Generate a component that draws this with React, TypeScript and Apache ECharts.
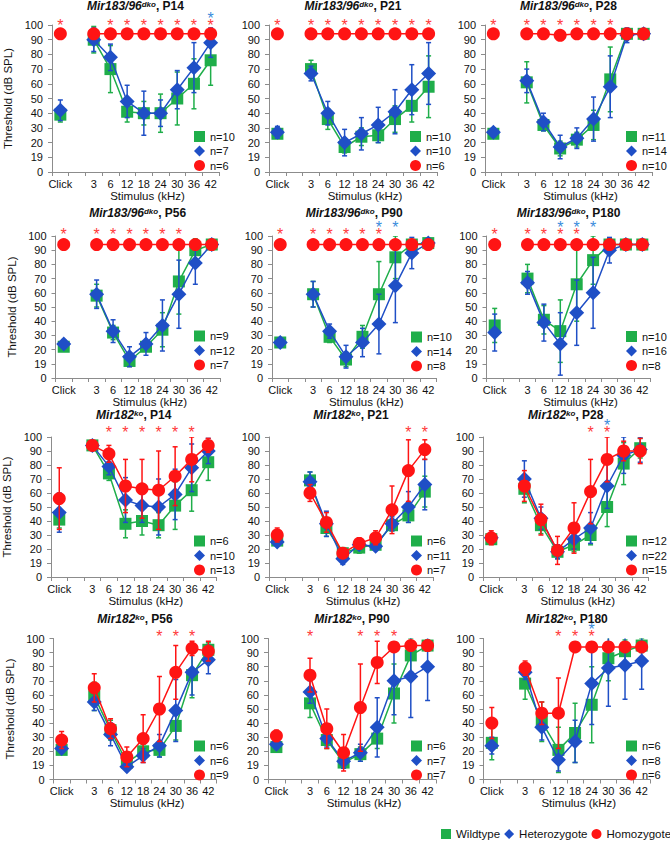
import React, { useEffect, useRef } from 'react';
import * as echarts from 'echarts';

// ---------------- data ----------------
const CATEGORIES = ['Click', '', '3', '6', '12', '18', '24', '30', '36', '42'];
const Y_TICK_LABELS = ['0', '19', '20', '30', '40', '50', '60', '70', '80', '90', '100'];
const GROUPS = ['Wildtype', 'Heterozygote', 'Homozygote'];

const TITLE_GENE = ['Mir183/96', 'Mir183/96', 'Mir183/96', 'Mir183/96', 'Mir183/96', 'Mir183/96', 'Mir182', 'Mir182', 'Mir182', 'Mir182', 'Mir182', 'Mir182'];
const TITLE_SUP = ['dko', 'dko', 'dko', 'dko', 'dko', 'dko', 'ko', 'ko', 'ko', 'ko', 'ko', 'ko'];
const TITLE_AGE = ['P14', 'P21', 'P28', 'P56', 'P90', 'P180', 'P14', 'P21', 'P28', 'P56', 'P90', 'P180'];

// values per panel, order: Click, 3, 6, 12, 18, 24, 30, 36, 42
const WT_MEAN = [
  [39, 90, 70, 41, 40, 40, 50, 60, 76],
  [26, 70, 36, 17, 24, 25, 36, 45, 58],
  [26, 61, 32, 16, 22, 32, 63, 94, 94],
  [22, 58, 32, 12, 22, 34, 68, 90, 94],
  [25, 59, 29, 13, 29, 59, 85, 94, 95],
  [37, 70, 41, 33, 66, 83, 94, 94, 94],
  [41, 94, 74, 38, 40, 37, 51, 62, 82],
  [26, 69, 35, 17, 21, 23, 37, 44, 61],
  [27, 63, 37, 18, 23, 30, 50, 81, 92],
  [21, 59, 35, 12, 20, 21, 38, 74, 92],
  [23, 54, 28, 12, 18, 29, 61, 88, 95],
  [26, 68, 41, 21, 33, 53, 86, 91, 95],
];
const WT_SD = [
  [5, 9, 16, 7, 8, 13, 18, 17, 17],
  [3, 6, 7, 4, 6, 5, 9, 11, 21],
  [2, 14, 4, 5, 5, 10, 22, 3, 2],
  [2, 8, 5, 4, 3, 12, 23, 8, 2],
  [3, 9, 4, 5, 8, 23, 15, 3, 3],
  [12, 10, 10, 22, 26, 17, 4, 3, 3],
  [6, 3, 5, 10, 10, 9, 17, 15, 13],
  [2, 6, 6, 4, 4, 3, 4, 5, 11],
  [3, 10, 6, 5, 5, 7, 14, 15, 7],
  [2, 10, 7, 4, 5, 5, 10, 16, 5],
  [2, 10, 6, 4, 5, 7, 21, 12, 4],
  [12, 11, 14, 16, 21, 27, 16, 8, 5],
];
const HET_MEAN = [
  [42, 90, 78, 48, 40, 40, 56, 71, 88],
  [27, 67, 40, 20, 26, 32, 41, 56, 67],
  [27, 62, 34, 17, 23, 36, 58, 93, 94],
  [24, 59, 33, 15, 24, 37, 59, 81, 94],
  [25, 59, 33, 15, 25, 38, 65, 88, 95],
  [32, 67, 39, 24, 46, 60, 90, 94, 94],
  [46, 94, 79, 55, 51, 50, 59, 78, 90],
  [25, 68, 38, 13, 23, 22, 38, 50, 66],
  [28, 70, 42, 18, 27, 35, 65, 87, 91],
  [22, 55, 32, 9, 17, 24, 49, 76, 85],
  [25, 62, 29, 13, 19, 37, 70, 73, 80],
  [24, 76, 37, 14, 27, 68, 79, 81, 84],
];
const HET_SD = [
  [7, 8, 9, 11, 15, 9, 13, 17, 10],
  [4, 5, 8, 9, 11, 12, 15, 17, 21],
  [3, 8, 6, 8, 7, 15, 21, 5, 2],
  [3, 10, 8, 7, 8, 18, 24, 15, 2],
  [3, 9, 5, 8, 10, 21, 26, 11, 3],
  [13, 8, 13, 22, 23, 25, 9, 3, 3],
  [14, 3, 6, 16, 12, 20, 18, 17, 9],
  [2, 7, 9, 4, 3, 3, 5, 11, 18],
  [3, 13, 8, 5, 7, 11, 16, 13, 9],
  [3, 6, 8, 2, 5, 8, 22, 16, 10],
  [3, 8, 6, 5, 6, 21, 24, 29, 24],
  [6, 5, 9, 8, 15, 29, 27, 24, 20],
];
const HOM_MEAN = [
  [94, 94, 94, 94, 94, 94, 94, 94, 94],
  [94, 94, 94, 94, 94, 94, 94, 94, 94],
  [94, 94, 94, 93, 94, 94, 94, 94, 94],
  [94, 94, 94, 94, 94, 94, 94, 94, 94],
  [94, 94, 94, 94, 94, 94, 94, 94, 94],
  [94, 94, 94, 94, 94, 94, 94, 94, 94],
  [56, 94, 88, 65, 63, 62, 72, 84, 94],
  [30, 60, 39, 17, 24, 28, 48, 76, 91],
  [28, 65, 41, 19, 35, 61, 84, 90, 90],
  [28, 65, 36, 16, 29, 50, 76, 93, 91],
  [31, 74, 36, 19, 51, 83, 94, 95, 95],
  [40, 79, 47, 47, 94, 94, 94, 94, 94],
];
const HOM_SD = [
  [0, 0, 0, 0, 0, 0, 0, 0, 0],
  [0, 0, 0, 0, 0, 0, 0, 0, 0],
  [0, 0, 0, 0, 0, 0, 0, 0, 0],
  [0, 0, 0, 0, 0, 0, 0, 0, 0],
  [0, 0, 0, 0, 0, 0, 0, 0, 0],
  [0, 0, 0, 0, 0, 0, 0, 0, 0],
  [22, 3, 6, 19, 21, 28, 21, 16, 5],
  [5, 6, 7, 3, 4, 5, 17, 22, 7],
  [5, 11, 11, 10, 18, 23, 16, 7, 9],
  [6, 10, 7, 7, 17, 23, 19, 5, 7],
  [4, 12, 14, 13, 31, 15, 3, 2, 2],
  [11, 5, 8, 25, 2, 2, 2, 2, 2],
];
const N_COUNTS = [
  [10, 7, 6], [10, 10, 6], [11, 14, 10],
  [9, 12, 7], [10, 14, 8], [10, 16, 8],
  [6, 10, 13], [6, 11, 7], [12, 22, 15],
  [6, 6, 9], [6, 7, 7], [6, 8, 6],
];
const RED_STARS = [
  ['Click', '6', '12', '18', '24', '30', '36', '42'],
  ['Click', '3', '6', '12', '18', '24', '30', '36', '42'],
  ['Click', '3', '6', '12', '18', '24', '30'],
  ['Click', '3', '6', '12', '18', '24', '30'],
  ['Click', '3', '6', '12', '18', '24'],
  ['Click', '3', '6', '12', '18'],
  ['6', '12', '18', '24', '30', '36'],
  ['36', '42'],
  ['24', '30'],
  ['24', '30', '36'],
  ['3', '18', '24', '30'],
  ['12', '18', '24'],
];
const BLUE_STARS = [
  ['42'], [], [],
  [], ['24', '30'], ['12', '18', '24'],
  [], [], ['30'],
  [], [], ['24'],
];

// ---------------- layout / style ----------------
const FONT = '"Liberation Sans", Arial, Helvetica, sans-serif';
const COLORS = ['#1fae4a', '#1f4fc6', '#ff1414'];
const STAR_COLORS = ['#ff3a3a', '#3a8cdc'];
const SYMBOLS = ['rect', 'diamond', 'circle'];
const SYMBOL_SIZES = [12, 15, 13];
const AXIS_COLOR = '#8c8c8c';

const PANELS = [
  { l: 52, r: 219, t: 25, b: 172, lx: 194, ly: 131 },
  { l: 269, r: 437, t: 25, b: 172, lx: 410, ly: 131 },
  { l: 485, r: 652, t: 25, b: 172, lx: 626, ly: 131 },
  { l: 55.5, r: 220, t: 236, b: 378, lx: 194, ly: 330.5 },
  { l: 272, r: 436.5, t: 236, b: 378, lx: 411, ly: 331.5 },
  { l: 486.5, r: 650.5, t: 236, b: 378, lx: 626, ly: 331 },
  { l: 51, r: 216.5, t: 437, b: 577, lx: 194, ly: 535.5 },
  { l: 269, r: 433, t: 437, b: 577, lx: 411, ly: 535.5 },
  { l: 483, r: 648.5, t: 437, b: 577, lx: 626, ly: 535.5 },
  { l: 53.5, r: 216.5, t: 638.5, b: 779.5, lx: 194, ly: 740.5 },
  { l: 268, r: 436, t: 638.5, b: 779.5, lx: 411, ly: 740.5 },
  { l: 483.5, r: 650, t: 638.5, b: 779.5, lx: 626, ly: 740.5 },
];
const TITLE_TOP = [0, 207, 409, 613];
const STAR_OFFSET = [0, -2, -5, -2.5];

const catIndex = (j: number) => (j === 0 ? 0 : j + 1);

function buildOption() {
  const grids: any[] = [];
  const xAxes: any[] = [];
  const yAxes: any[] = [];
  const titles: any[] = [];
  const legends: any[] = [];
  const series: any[] = [];
  const nameMap: Record<string, string> = {};

  const means = [WT_MEAN, HET_MEAN, HOM_MEAN];
  const sds = [WT_SD, HET_SD, HOM_SD];

  PANELS.forEach((p, i) => {
    const row = Math.floor(i / 3);
    const col = i % 3;
    grids.push({
      left: p.l, top: p.t, width: p.r - p.l, height: p.b - p.t,
      containLabel: false, outerBoundsMode: 'none', show: false,
    });
    xAxes.push({
      type: 'category', gridIndex: i, data: CATEGORIES, boundaryGap: true,
      axisLine: { show: true, lineStyle: { color: AXIS_COLOR, width: 1 } },
      axisTick: { show: true, length: 4, interval: 0, alignWithLabel: false, lineStyle: { color: AXIS_COLOR } },
      axisLabel: { interval: 0, fontSize: 11, color: '#111', margin: 6, fontFamily: FONT },
      splitLine: { show: false },
      name: 'Stimulus (kHz)', nameLocation: 'middle', nameGap: 16,
      nameTextStyle: { fontSize: 11.5, color: '#111', fontFamily: FONT, padding: [0, 0, 0, 24] },
    });
    yAxes.push({
      type: 'value', gridIndex: i, min: 0, max: 100, interval: 10,
      axisLine: { show: true, lineStyle: { color: AXIS_COLOR, width: 1 } },
      axisTick: { show: true, length: 4, lineStyle: { color: AXIS_COLOR } },
      axisLabel: {
        fontSize: 11, color: '#111', margin: 9, fontFamily: FONT,
        formatter: (v: number) => Y_TICK_LABELS[Math.round(v / 10)],
      },
      splitLine: { show: false },
      name: col === 0 ? 'Threshold (dB SPL)' : '',
      nameLocation: 'middle', nameGap: 38,
      nameTextStyle: { fontSize: 11.5, color: '#111', fontFamily: FONT },
    });
    titles.push({
      text: `{a|${TITLE_GENE[i]}}{b|${TITLE_SUP[i]}}{c|, ${TITLE_AGE[i]}}`,
      left: (p.l + p.r) / 2, top: TITLE_TOP[row], textAlign: 'center', padding: 0,
      textStyle: {
        rich: {
          a: { fontSize: 12, fontWeight: 'bold', fontStyle: 'italic', fontFamily: FONT, color: '#111' },
          b: { fontSize: 8, fontStyle: 'italic', fontFamily: FONT, color: '#111', verticalAlign: 'top' },
          c: { fontSize: 12, fontWeight: 'bold', fontFamily: FONT, color: '#111' },
        },
      },
    });

    const legendData: any[] = [];
    for (let g = 0; g < 3; g++) {
      const nm = `p${i}_${g}`;
      nameMap[nm] = `n=${N_COUNTS[i][g]}`;
      legendData.push({ name: nm, icon: SYMBOLS[g] });
      const m = means[g][i];
      const s = sds[g][i];
      const color = COLORS[g];
      // error bars
      series.push({
        type: 'custom', name: `${nm}_err`, xAxisIndex: i, yAxisIndex: i,
        silent: true, clip: true, z: 2 + g * 2,
        data: m.map((v, j) => [catIndex(j), v, s[j]]).filter((d) => d[2] > 0),
        encode: { x: 0, y: 1 },
        renderItem: (params: any, api: any) => {
          const x = api.value(0);
          const mv = api.value(1);
          const sv = api.value(2);
          const hi = api.coord([x, mv + sv]);
          const lo = api.coord([x, mv - sv]);
          const c = hi[0];
          const w = 2.5;
          const st = { stroke: color, lineWidth: 1.5 };
          return {
            type: 'group',
            children: [
              { type: 'line', shape: { x1: c, y1: hi[1], x2: c, y2: lo[1] }, style: st },
              { type: 'line', shape: { x1: c - w, y1: hi[1], x2: c + w, y2: hi[1] }, style: st },
              { type: 'line', shape: { x1: c - w, y1: lo[1], x2: c + w, y2: lo[1] }, style: st },
            ],
          };
        },
      });
      // line + markers
      const lineData: (number | null)[] = CATEGORIES.map(() => null);
      m.forEach((v, j) => { lineData[catIndex(j)] = v; });
      series.push({
        type: 'line', name: nm, xAxisIndex: i, yAxisIndex: i,
        data: lineData, connectNulls: false,
        symbol: SYMBOLS[g], symbolSize: SYMBOL_SIZES[g], showSymbol: true, showAllSymbol: true,
        itemStyle: { color, borderWidth: 0 },
        lineStyle: { color, width: 1.5 },
        z: 3 + g * 2, silent: true,
        emphasis: { disabled: true },
      });
    }
    legends.push({
      data: legendData, orient: 'vertical', left: p.lx, top: p.ly,
      itemWidth: 11, itemHeight: 11, itemGap: 3.5, padding: 0, selectedMode: false,
      textStyle: { fontSize: 11, color: '#111', fontFamily: FONT },
      formatter: (name: string) => nameMap[name] || name,
    });

    // asterisks
    [RED_STARS[i], BLUE_STARS[i]].forEach((stars, k) => {
      if (!stars.length) return;
      const off = STAR_OFFSET[row] - k * 7;
      series.push({
        type: 'custom', name: `p${i}_stars${k}`, xAxisIndex: i, yAxisIndex: i,
        silent: true, clip: false, z: 20,
        data: stars.map((s) => [CATEGORIES.indexOf(s), 100]),
        encode: { x: 0, y: 1 },
        renderItem: (params: any, api: any) => {
          const pt = api.coord([api.value(0), 100]);
          return {
            type: 'text', x: pt[0], y: pt[1] + off,
            style: {
              text: '*', fill: STAR_COLORS[k], fontSize: 16, fontFamily: FONT,
              align: 'center', verticalAlign: 'middle',
            },
          };
        },
      });
    });
  });

  // dummy series for global legend
  GROUPS.forEach((g, k) => {
    series.push({
      type: 'line', name: g, xAxisIndex: 0, yAxisIndex: 0, data: [],
      itemStyle: { color: COLORS[k] }, lineStyle: { color: COLORS[k] },
    });
  });
  legends.push({
    data: GROUPS.map((g, k) => ({ name: g, icon: SYMBOLS[k] })),
    orient: 'horizontal', left: 441, top: 828, padding: 0, width: 240,
    itemWidth: 10, itemHeight: 10, itemGap: 4, selectedMode: false,
    textStyle: { fontSize: 11.5, color: '#111', fontFamily: FONT },
  });

  return {
    animation: false,
    backgroundColor: '#ffffff',
    textStyle: { fontFamily: FONT },
    grid: grids,
    xAxis: xAxes,
    yAxis: yAxes,
    title: titles,
    legend: legends,
    tooltip: { show: false },
    series,
  };
}

export default function App() {
  const ref = useRef<HTMLDivElement>(null);
  useEffect(() => {
    if (!ref.current) return;
    const chart = echarts.init(ref.current, null, { renderer: 'svg' });
    chart.setOption(buildOption() as any);
    return () => chart.dispose();
  }, []);
  return (
    <div
      ref={ref}
      style={{ position: 'absolute', left: 0, top: 0, width: 670, height: 843, background: '#fff' }}
    />
  );
}
